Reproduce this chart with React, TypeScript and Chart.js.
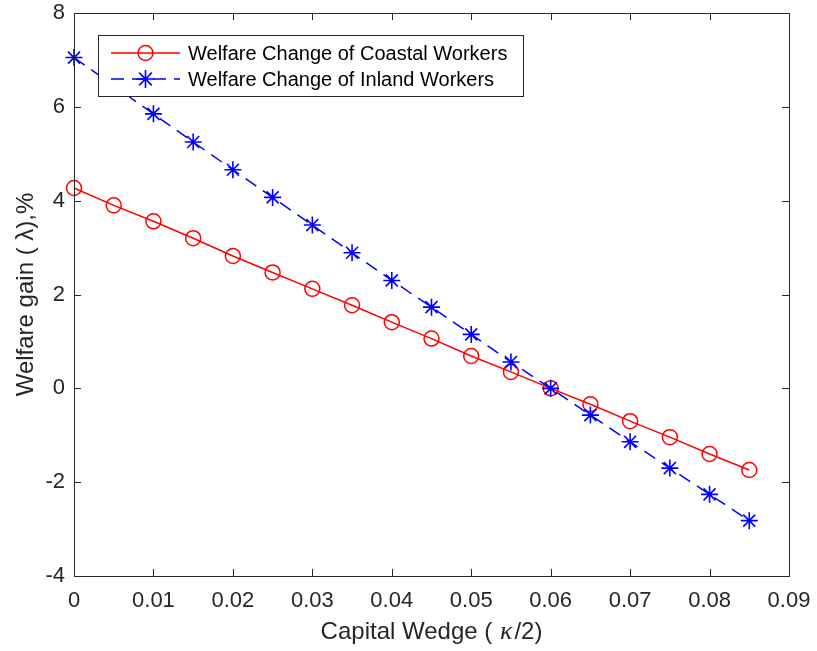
import React, { useEffect, useRef } from "react";
import { Chart, registerables } from "chart.js";

Chart.register(...registerables);

const kappa = [0, 0.005, 0.01, 0.015, 0.02, 0.025, 0.03, 0.035, 0.04, 0.045, 0.05, 0.055, 0.06, 0.065, 0.07, 0.075, 0.08, 0.085];
const coastal = [4.27, 3.9, 3.56, 3.2, 2.82, 2.47, 2.12, 1.77, 1.41, 1.06, 0.69, 0.35, 0, -0.34, -0.7, -1.04, -1.4, -1.74];
const inland = [7.05, 6.45, 5.85, 5.25, 4.66, 4.07, 3.48, 2.89, 2.3, 1.73, 1.15, 0.56, 0, -0.57, -1.14, -1.7, -2.26, -2.82];

const seriesNames = ["Welfare Change of Coastal Workers", "Welfare Change of Inland Workers"];
const xTitleParts: [string, boolean][] = [["Capital Wedge ( ", false], ["κ", true], ["/2)", false]];
const yTitleParts: [string, boolean][] = [["Welfare gain ( ", false], ["λ", false], ["),%", false]];

const FONT = '"Liberation Sans", Arial, Helvetica, sans-serif';
const AXIS = "#262626";
const DASH = [13, 8];

function drawRich(ctx: CanvasRenderingContext2D, parts: [string, boolean][], size: number) {
  const fonts = parts.map(([, it]) => (it ? `italic ${size + 2}px "Liberation Serif", serif` : `${size}px ${FONT}`));
  let total = 0;
  const widths = parts.map(([t], i) => {
    ctx.font = fonts[i];
    const w = ctx.measureText(t).width + (parts[i][1] ? 3 : 0);
    total += w;
    return w;
  });
  let x = -total / 2;
  parts.forEach(([t], i) => {
    ctx.font = fonts[i];
    ctx.fillText(t, x + (parts[i][1] ? 1 : 0), 0);
    x += widths[i];
  });
}

const framePlugin = {
  id: "matlabFrame",
  afterDraw(chart: any) {
    const { ctx, chartArea: a, scales } = chart;
    const xs = scales.x;
    const ys = scales.y;
    ctx.save();
    ctx.strokeStyle = AXIS;
    ctx.lineWidth = 1;
    ctx.strokeRect(a.left + 0.5, a.top + 0.5, a.right - a.left, a.bottom - a.top);
    const tl = 7;
    ctx.beginPath();
    xs.ticks.forEach((t: any) => {
      const px = Math.round(xs.getPixelForValue(t.value)) + 0.5;
      ctx.moveTo(px, a.bottom);
      ctx.lineTo(px, a.bottom - tl);
      ctx.moveTo(px, a.top);
      ctx.lineTo(px, a.top + tl);
    });
    ys.ticks.forEach((t: any) => {
      const py = Math.round(ys.getPixelForValue(t.value)) + 0.5;
      ctx.moveTo(a.left, py);
      ctx.lineTo(a.left + tl, py);
      ctx.moveTo(a.right, py);
      ctx.lineTo(a.right - tl, py);
    });
    ctx.stroke();

    ctx.fillStyle = AXIS;
    ctx.textBaseline = "alphabetic";
    ctx.textAlign = "left";
    ctx.save();
    ctx.translate((a.left + a.right) / 2, a.bottom + 63);
    drawRich(ctx, xTitleParts, 24);
    ctx.restore();
    ctx.save();
    ctx.translate(33, (a.top + a.bottom) / 2);
    ctx.rotate(-Math.PI / 2);
    drawRich(ctx, yTitleParts, 24);
    ctx.restore();
    ctx.restore();
  },
};

function drawStar(ctx: CanvasRenderingContext2D, x: number, y: number, r: number) {
  ctx.beginPath();
  ctx.moveTo(x - r, y);
  ctx.lineTo(x + r, y);
  ctx.moveTo(x, y - r);
  ctx.lineTo(x, y + r);
  const d = r * Math.SQRT1_2;
  ctx.moveTo(x - d, y - d);
  ctx.lineTo(x + d, y + d);
  ctx.moveTo(x - d, y + d);
  ctx.lineTo(x + d, y - d);
  ctx.stroke();
}

const legendPlugin = {
  id: "matlabLegend",
  afterDatasetsDraw(chart: any) {
    const { ctx, chartArea: a } = chart;
    const bx = a.left + 24;
    const by = a.top + 22;
    const bw = 425;
    const bh = 61;
    ctx.save();
    ctx.fillStyle = "#ffffff";
    ctx.fillRect(bx, by, bw, bh);
    ctx.strokeStyle = AXIS;
    ctx.lineWidth = 1;
    ctx.strokeRect(bx + 0.5, by + 0.5, bw, bh);
    const rows = [by + 18, by + 44];
    const lx0 = bx + 13;
    const lx1 = bx + 82;
    const mx = (lx0 + lx1) / 2;
    ctx.strokeStyle = "#ff0000";
    ctx.lineWidth = 1.5;
    ctx.setLineDash([]);
    ctx.beginPath();
    ctx.moveTo(lx0, rows[0]);
    ctx.lineTo(lx1, rows[0]);
    ctx.stroke();
    ctx.beginPath();
    ctx.arc(mx, rows[0], 7.5, 0, Math.PI * 2);
    ctx.stroke();
    ctx.strokeStyle = "#0000ff";
    ctx.setLineDash(DASH);
    ctx.beginPath();
    ctx.moveTo(lx0, rows[1]);
    ctx.lineTo(lx1, rows[1]);
    ctx.stroke();
    ctx.setLineDash([]);
    ctx.lineWidth = 1.6;
    drawStar(ctx, mx, rows[1], 9);
    ctx.fillStyle = "#000000";
    ctx.font = `20px ${FONT}`;
    ctx.textBaseline = "middle";
    ctx.textAlign = "left";
    ctx.fillText(seriesNames[0], bx + 90, rows[0] + 1);
    ctx.fillText(seriesNames[1], bx + 90, rows[1] + 1);
    ctx.restore();
  },
};

function zeroPad(s: any) {
  s.paddingTop = 0;
  s.paddingBottom = 0;
  s.paddingLeft = 0;
  s.paddingRight = 0;
}

export default function App() {
  const ref = useRef<HTMLCanvasElement | null>(null);
  useEffect(() => {
    if (!ref.current) return;
    const chart = new Chart(ref.current, {
      type: "line",
      data: {
        datasets: [
          {
            label: seriesNames[0],
            data: kappa.map((k, i) => ({ x: k, y: coastal[i] })),
            borderColor: "#ff0000",
            borderWidth: 1.5,
            pointStyle: "circle",
            pointRadius: 7.5,
            pointBorderColor: "#ff0000",
            pointBackgroundColor: "rgba(0,0,0,0)",
            pointBorderWidth: 1.5,
            order: 1,
            clip: false as any,
          },
          {
            label: seriesNames[1],
            data: kappa.map((k, i) => ({ x: k, y: inland[i] })),
            borderColor: "#0000ff",
            borderWidth: 1.5,
            borderDash: DASH,
            pointStyle: "star",
            pointRadius: 8.5,
            pointBorderColor: "#0000ff",
            pointBackgroundColor: "rgba(0,0,0,0)",
            pointBorderWidth: 1.6,
            order: 0,
            clip: false as any,
          },
        ],
      },
      options: {
        animation: false,
        responsive: false,
        events: [],
        layout: { padding: { top: 13, right: 28, left: 0, bottom: 0 } },
        plugins: { legend: { display: false }, tooltip: { enabled: false } },
        scales: {
          x: {
            type: "linear",
            min: 0,
            max: 0.09,
            grid: { display: false, drawTicks: false },
            border: { display: false },
            ticks: {
              stepSize: 0.01,
              padding: 12,
              color: AXIS,
              font: { family: FONT, size: 22 },
              maxRotation: 0,
              autoSkip: false,
              callback: (v: any) => String(Number(Number(v).toFixed(3))),
            },
            afterFit: (s: any) => {
              s.height = 75;
              zeroPad(s);
            },
          },
          y: {
            type: "linear",
            min: -4,
            max: 8,
            grid: { display: false, drawTicks: false },
            border: { display: false },
            ticks: {
              stepSize: 2,
              padding: 9,
              color: AXIS,
              font: { family: FONT, size: 22 },
              callback: (v: any) => String(Number(v)),
            },
            afterFit: (s: any) => {
              s.width = 74;
              zeroPad(s);
            },
          },
        },
      },
      plugins: [framePlugin, legendPlugin],
    });
    return () => chart.destroy();
  }, []);
  return (
    <div style={{ position: "absolute", left: 0, top: 0, width: 817, height: 651, background: "#fff" }}>
      <canvas ref={ref} width={817} height={651} style={{ display: "block" }} />
    </div>
  );
}
